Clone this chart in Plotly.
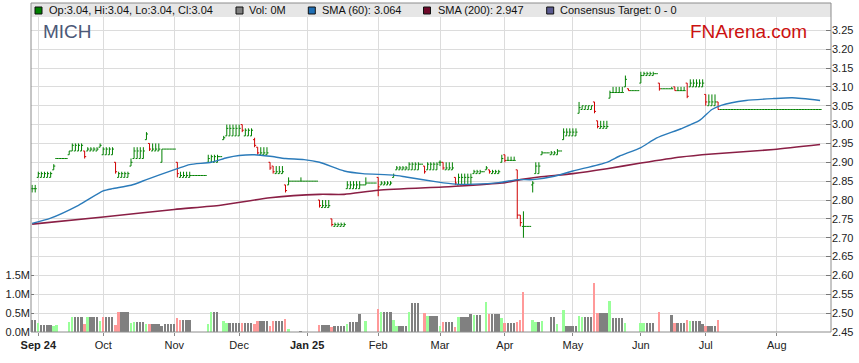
import plotly.graph_objects as go
import pandas as pd

# ---------------- data ----------------
dates = pd.bdate_range("2024-08-29", "2025-08-21").strftime("%Y-%m-%d").tolist()

def rep(v, n):
    return [v] * n

open_ = ([2.83, 2.83, 2.86] + rep(2.86, 4) + [2.88, 2.91] + rep(2.91, 3) + [2.92] + rep(2.93, 4) + [2.93]
         + rep(2.93, 4) + [2.94] + rep(2.92, 4) + [2.90] + rep(2.86, 4) + [2.89] + rep(2.91, 4) + [2.96, 2.95]
         + rep(2.93, 3) + [2.90] + rep(2.935, 4) + [2.90] + rep(2.86, 4) + rep(2.865, 5) + [2.90] + rep(2.90, 3)
         + [2.915, 2.96] + rep(2.97, 5) + [3.00] + rep(2.97, 3) + [2.96, 2.94] + rep(2.92, 3) + [2.90, 2.89]
         + rep(2.87, 3) + [2.84, 2.84] + rep(2.85, 3) + [2.85] + rep(2.85, 5) + [2.80] + rep(2.78, 3) + [2.75]
         + rep(2.73, 4) + [2.83] + rep(2.83, 3) + [2.83, 2.84, 2.84] + rep(2.845, 3) + [2.86] + rep(2.84, 4)
         + [2.86] + rep(2.88, 4) + [2.88] + rep(2.88, 3) + [2.895, 2.89] + rep(2.88, 4) + [2.90, 2.90]
         + rep(2.88, 3) + [2.86] + rep(2.84, 4) + [2.84] + rep(2.87, 3) + [2.875, 2.88, 2.88] + rep(2.87, 3)
         + [2.90, 2.92] + rep(2.905, 3) + [2.88, 2.76, 2.73] + rep(2.73, 2) + [2.84] + rep(2.87, 2) + [2.92]
         + rep(2.925, 2) + rep(2.92, 2) + [2.92, 2.93, 2.96] + rep(2.97, 4) + [3.03] + rep(3.04, 4) + [3.06, 3.01]
         + rep(2.99, 3) + [3.07] + rep(3.085, 4) + [3.10, 3.095] + rep(3.09, 3) + [3.11] + rep(3.13, 4)
         + [3.135, 3.11] + rep(3.095, 3) + [3.095, 3.10] + rep(3.09, 3) + [3.11] + rep(3.10, 4) + [3.10, 3.08]
         + rep(3.05, 3) + [3.06] + rep(3.04, 33))

high = ([2.84, 2.84, 2.875] + rep(2.875, 4) + [2.895, 2.91] + rep(2.91, 3) + [2.93] + rep(2.95, 4) + [2.93]
        + rep(2.94, 4) + [2.95] + rep(2.94, 4) + [2.90] + rep(2.875, 4) + [2.91] + rep(2.94, 4) + [2.98, 2.95]
        + rep(2.95, 3) + [2.935] + rep(2.935, 4) + [2.90] + rep(2.875, 4) + rep(2.865, 5) + [2.92] + rep(2.92, 3)
        + [2.915, 2.97] + rep(3.00, 5) + [3.00] + rep(2.99, 3) + [2.965, 2.94] + rep(2.94, 3) + [2.90, 2.89]
        + rep(2.89, 3) + [2.84, 2.86] + rep(2.85, 3) + [2.86] + rep(2.85, 5) + [2.80] + rep(2.80, 3) + [2.75]
        + rep(2.74, 4) + [2.85] + rep(2.85, 3) + [2.85, 2.84, 2.86] + rep(2.845, 3) + [2.86] + rep(2.85, 4)
        + [2.87] + rep(2.89, 4) + [2.90] + rep(2.90, 3) + [2.895, 2.89] + rep(2.90, 4) + [2.905, 2.90]
        + rep(2.90, 3) + [2.86] + rep(2.87, 4) + [2.87] + rep(2.88, 3) + [2.875, 2.89, 2.88] + rep(2.88, 3)
        + [2.92, 2.92] + rep(2.915, 3) + [2.88, 2.76, 2.77] + rep(2.73, 2) + [2.85] + rep(2.90, 2) + [2.93]
        + rep(2.925, 2) + rep(2.93, 2) + [2.935, 2.93, 2.99] + rep(2.99, 4) + [3.06] + rep(3.05, 4) + [3.06, 3.01]
        + rep(3.01, 3) + [3.09] + rep(3.10, 4) + [3.13, 3.095] + rep(3.09, 3) + [3.14] + rep(3.14, 4)
        + [3.135, 3.11] + rep(3.095, 3) + [3.10, 3.10] + rep(3.10, 3) + [3.11] + rep(3.12, 4) + [3.12, 3.08]
        + rep(3.08, 3) + [3.06] + rep(3.04, 33))

low = ([2.82, 2.82, 2.86] + rep(2.86, 4) + [2.88, 2.91] + rep(2.91, 3) + [2.92] + rep(2.93, 4) + [2.91]
       + rep(2.93, 4) + [2.94] + rep(2.92, 4) + [2.87] + rep(2.86, 4) + [2.89] + rep(2.91, 4) + [2.96, 2.93]
       + rep(2.93, 3) + [2.90] + rep(2.935, 4) + [2.86] + rep(2.86, 4) + rep(2.865, 5) + [2.90] + rep(2.90, 3)
       + [2.915, 2.96] + rep(2.97, 5) + [2.98] + rep(2.97, 3) + [2.94, 2.92] + rep(2.92, 3) + [2.88, 2.87]
       + rep(2.87, 3) + [2.82, 2.84] + rep(2.85, 3) + [2.85] + rep(2.85, 5) + [2.78] + rep(2.78, 3) + [2.73]
       + rep(2.73, 4) + [2.83] + rep(2.83, 3) + [2.83, 2.84, 2.84] + rep(2.845, 3) + [2.81] + rep(2.84, 4)
       + [2.86] + rep(2.88, 4) + [2.88] + rep(2.88, 3) + [2.895, 2.87] + rep(2.88, 4) + [2.89, 2.88]
       + rep(2.88, 3) + [2.84] + rep(2.84, 4) + [2.84] + rep(2.87, 3) + [2.875, 2.88, 2.87] + rep(2.87, 3)
       + [2.90, 2.90] + rep(2.905, 3) + [2.75, 2.73, 2.70] + rep(2.73, 2) + [2.82] + rep(2.87, 2) + [2.92]
       + rep(2.925, 2) + rep(2.92, 2) + [2.92, 2.93, 2.96] + rep(2.97, 4) + [3.03] + rep(3.04, 4) + [3.03, 2.99]
       + rep(2.99, 3) + [3.07] + rep(3.085, 4) + [3.10, 3.09] + rep(3.09, 3) + [3.11] + rep(3.13, 4)
       + [3.135, 3.09] + rep(3.095, 3) + [3.095, 3.09] + rep(3.09, 3) + [3.07] + rep(3.10, 4) + [3.10, 3.05]
       + rep(3.05, 3) + [3.04] + rep(3.04, 33))

close = ([2.83, 2.83, 2.87] + rep(2.87, 4) + [2.89, 2.91] + rep(2.91, 3) + [2.93] + rep(2.945, 4) + [2.915]
         + rep(2.935, 4) + [2.945] + rep(2.935, 4) + [2.875] + rep(2.87, 4) + [2.90] + rep(2.93, 4) + [2.975, 2.935]
         + rep(2.935, 3) + [2.935] + rep(2.935, 4) + [2.87] + rep(2.865, 4) + rep(2.865, 5) + [2.91] + rep(2.915, 3)
         + [2.915, 2.965] + rep(2.99, 5) + [2.985] + rep(2.985, 3) + [2.945, 2.925] + rep(2.925, 3) + [2.885, 2.875]
         + rep(2.875, 3) + [2.825, 2.85] + rep(2.85, 3) + [2.85] + rep(2.85, 5) + [2.785] + rep(2.785, 3) + [2.735]
         + rep(2.735, 4) + [2.84] + rep(2.84, 3) + [2.84, 2.84, 2.845] + rep(2.845, 3) + [2.835] + rep(2.845, 4)
         + [2.865] + rep(2.885, 4) + [2.895] + rep(2.895, 3) + [2.895, 2.875] + rep(2.895, 4) + [2.90, 2.885]
         + rep(2.885, 3) + [2.845] + rep(2.86, 4) + [2.86] + rep(2.875, 3) + [2.875, 2.885, 2.875] + rep(2.875, 3)
         + [2.91, 2.905] + rep(2.905, 3) + [2.76, 2.74, 2.73] + rep(2.73, 2) + [2.845] + rep(2.89, 2) + [2.925]
         + rep(2.925, 2) + rep(2.925, 2) + [2.93, 2.93, 2.98] + rep(2.98, 4) + [3.045] + rep(3.05, 4) + [3.035, 2.995]
         + rep(2.995, 3) + [3.085] + rep(3.085, 4) + [3.12, 3.09] + rep(3.09, 3) + [3.13] + rep(3.135, 4)
         + [3.135, 3.095] + rep(3.095, 3) + [3.095, 3.09] + rep(3.09, 3) + [3.075] + rep(3.11, 4) + [3.11, 3.06]
         + rep(3.06, 3) + [3.04] + rep(3.04, 33))

volume_m = ([0.32, 0.32, 0.24] + rep(0.19, 4) + [0.16, 0.18] + rep(0, 3) + [0.27] + rep(0.41, 4) + [0.21]
            + rep(0.41, 4) + [0.30] + rep(0.41, 4) + [0.19] + rep(0.53, 4) + [0.24] + rep(0.27, 4) + [0.21, 0.21]
            + rep(0.21, 3) + [0.15] + rep(0.21, 4) + [0.36] + rep(0.32, 4) + rep(0, 5) + [0.21] + rep(0.53, 3)
            + [0, 0.30] + rep(0.23, 5) + [0.23] + rep(0.23, 3) + [0.21, 0.30] + rep(0.30, 3) + [0.15, 0.30]
            + rep(0.30, 3) + [0.34, 0.09] + rep(0, 3) + [0.02] + rep(0, 5) + [0.19] + rep(0.19, 3) + [0.13]
            + rep(0.15, 4) + [0.21] + rep(0.27, 3) + [0.48, 0, 0.30] + rep(0, 3) + [0.60] + rep(0.53, 4)
            + [0.32] + rep(0.15, 4) + [0.53] + rep(0.76, 3) + [0, 0.50] + rep(0.42, 4) + [0.15, 0.27]
            + rep(0.27, 3) + [0.13] + rep(0.40, 4) + [0.49] + rep(0.45, 3) + [0, 0.80, 0.47] + rep(0.47, 3)
            + [0.36, 0.24] + rep(0.24, 3) + [0.27, 0.33, 1.07] + rep(0, 2) + [0.32] + rep(0.27, 2) + [0.30]
            + rep(0, 2) + rep(0.39, 2) + [0.21, 0, 0.58] + rep(0.15, 4) + [0.42] + rep(0.39, 4) + [1.31, 0.51]
            + rep(0.51, 3) + [0.83] + rep(0.36, 4) + [0.24, 0] + rep(0, 3) + [0.24] + rep(0.24, 4)
            + [0, 0.54] + rep(0, 3) + [0.45, 0.24] + rep(0.24, 3) + [0.32] + rep(0.30, 4) + [0.21, 0.15]
            + rep(0.15, 3) + [0.33] + rep(0, 33))

sma60_dates = ["2024-08-29", "2024-09-06", "2024-09-19", "2024-10-01", "2024-10-04", "2024-10-14",
               "2024-10-21", "2024-10-25", "2024-11-04", "2024-11-08", "2024-11-19", "2024-11-26",
               "2024-12-02", "2024-12-09", "2024-12-16", "2024-12-23", "2024-12-31", "2025-01-07",
               "2025-01-17", "2025-01-27", "2025-02-10", "2025-02-14", "2025-02-28", "2025-03-10",
               "2025-03-18", "2025-03-28", "2025-04-07", "2025-04-14", "2025-04-23", "2025-05-01",
               "2025-05-16", "2025-05-22", "2025-06-02", "2025-06-09", "2025-06-19", "2025-06-27",
               "2025-07-03", "2025-07-08", "2025-07-18", "2025-07-31", "2025-08-08", "2025-08-21"]
sma60 = [2.738, 2.752, 2.786, 2.824, 2.830, 2.839, 2.854, 2.866, 2.883, 2.894, 2.900, 2.912,
         2.918, 2.920, 2.916, 2.910, 2.907, 2.900, 2.877, 2.870, 2.866, 2.861, 2.848, 2.842,
         2.842, 2.846, 2.854, 2.854, 2.863, 2.877, 2.900, 2.916, 2.939, 2.964, 2.989, 3.011,
         3.040, 3.051, 3.064, 3.069, 3.071, 3.064]

sma200_dates = ["2024-08-29", "2024-10-01", "2024-11-01", "2024-11-22", "2024-12-16", "2025-01-07",
                "2025-01-17", "2025-02-03", "2025-03-07", "2025-03-31", "2025-04-08", "2025-04-16",
                "2025-05-01", "2025-05-16", "2025-06-02", "2025-06-19", "2025-07-03", "2025-07-31",
                "2025-08-21"]
sma200 = [2.736, 2.755, 2.775, 2.786, 2.806, 2.815, 2.815, 2.826, 2.836, 2.845, 2.854, 2.861,
          2.870, 2.883, 2.898, 2.914, 2.922, 2.934, 2.947]

month_ticks = ["2024-09-02", "2024-10-01", "2024-11-01", "2024-12-02", "2025-01-01", "2025-02-03",
               "2025-03-03", "2025-04-01", "2025-05-01", "2025-06-02", "2025-07-01", "2025-08-01"]
month_labels = ["<b>Sep 24</b>", "Oct", "Nov", "Dec", "<b>Jan 25</b>", "Feb", "Mar", "Apr", "May",
                "Jun", "Jul", "Aug"]
price_ticks = [2.45, 2.50, 2.55, 2.60, 2.65, 2.70, 2.75, 2.80, 2.85, 2.90, 2.95, 3.00, 3.05, 3.10,
               3.15, 3.20, 3.25]
vol_ticks = [0, 0.5e6, 1.0e6, 1.5e6]
vol_labels = ["0.0M", "0.5M", "1.0M", "1.5M"]

legend_items = ["Op:3.04, Hi:3.04, Lo:3.04, Cl:3.04", "Vol: 0M", "SMA (60): 3.064",
                "SMA (200): 2.947", "Consensus Target: 0 - 0"]

# ---------------- styling / layout ----------------
W, H = 859, 363
ML, MR, MT, MB = 31, 28, 3, 31
PW, PH = W - ML - MR, H - MT - MB
FONT = "Arial, 'Liberation Sans', sans-serif"
GREEN, RED = "#008000", "#d00000"

n = len(dates)
up = [c >= o for o, c in zip(open_, close)]


def sel(vals, mask):
    return [v if m else None for v, m in zip(vals, mask)]


fig = go.Figure()

# volume bars
vcol = []
for i in range(n):
    if i == 0 or round(close[i], 4) == round(close[i - 1], 4):
        vcol.append("#808080")
    elif close[i] > close[i - 1]:
        vcol.append("#99ff99")
    else:
        vcol.append("#ff9999")
fig.add_trace(go.Bar(x=dates, y=[v * 1e6 for v in volume_m], yaxis="y2", marker_color=vcol,
                     marker_line_width=0, width=0.62, hoverinfo="skip"))

# SMA lines
fig.add_trace(go.Scatter(x=sma200_dates, y=sma200, mode="lines",
                         line=dict(color="#8a1f45", width=1.6, shape="spline", smoothing=0.6)))
fig.add_trace(go.Scatter(x=sma60_dates, y=sma60, mode="lines",
                         line=dict(color="#2b7bba", width=1.4, shape="spline", smoothing=0.6)))

# OHLC bars (green / red)
down = [not u for u in up]
for mask, col in ((up, GREEN), (down, RED)):
    fig.add_trace(go.Ohlc(x=dates, open=sel(open_, mask), high=sel(high, mask), low=sel(low, mask),
                          close=sel(close, mask), tickwidth=0.5,
                          increasing=dict(line=dict(color=col, width=1)),
                          decreasing=dict(line=dict(color=col, width=1))))


def px_x(x):
    return (x - ML) / PW


def px_y(y):
    return (MT + PH - y) / PH


shapes = [
    dict(type="rect", xref="paper", yref="paper", x0=0, x1=1, y0=px_y(17), y1=1,
         fillcolor="#e6e6e6", line_width=0, layer="above"),
    dict(type="rect", xref="paper", yref="paper", x0=0, x1=1, y0=0, y1=1,
         line=dict(color="#8c8c8c", width=1), layer="above"),
]
sq_x = [35, 236, 308.3, 423.5, 546.7]
txt_x = [46.5, 246.5, 319.5, 436, 558]
sq_col = [GREEN, "#808080", "#1f6fb5", "#6e0a2a", "#5a5a90"]
annotations = []
for sx, tx, c, t in zip(sq_x, txt_x, sq_col, legend_items):
    shapes.append(dict(type="rect", xref="paper", yref="paper", x0=px_x(sx), x1=px_x(sx + 7),
                       y0=px_y(14), y1=px_y(7), fillcolor=c, line=dict(color="#111", width=1),
                       layer="above"))
    annotations.append(dict(text=t, xref="paper", yref="paper", x=px_x(tx), y=px_y(10.5),
                            xanchor="left", yanchor="middle", showarrow=False,
                            font=dict(family=FONT, size=11, color="#111")))

annotations.append(dict(text="MICH", xref="paper", yref="paper", x=px_x(41), y=px_y(32),
                        xanchor="left", yanchor="middle", showarrow=False,
                        font=dict(family=FONT, size=19, color="#4b5878")))
annotations.append(dict(text="FNArena.com", xref="paper", yref="paper", x=px_x(808.5), y=px_y(32),
                        xanchor="right", yanchor="middle", showarrow=False,
                        font=dict(family=FONT, size=19, color="#cc1111")))

y_lo = 2.45
y_hi = 2.45 + PH * (0.80 / 301.7)
v_hi = PH / 18.856 * 0.5e6
x_lo = (ML - 38.3) / 3.09 + 2
x_hi = (ML + PW - 38.3) / 3.09 + 2

fig.update_layout(
    width=W, height=H, margin=dict(l=ML, r=MR, t=MT, b=MB),
    paper_bgcolor="white", plot_bgcolor="white", showlegend=False, hovermode=False,
    font=dict(family=FONT, size=11, color="#222"),
    shapes=shapes, annotations=annotations, bargap=0,
    xaxis=dict(type="category", categoryorder="array", categoryarray=dates,
               range=[x_lo, x_hi], tickmode="array", tickvals=month_ticks, ticktext=month_labels,
               showgrid=True, gridcolor="#dcdcdc", gridwidth=1, ticks="outside", ticklen=3,
               tickcolor="#888", showline=False, zeroline=False, rangeslider=dict(visible=False),
               tickfont=dict(family=FONT, size=11, color="#222"), fixedrange=True),
    yaxis=dict(side="right", range=[y_lo, y_hi], tickmode="array", tickvals=price_ticks,
               ticktext=[f"{v:.2f}" for v in price_ticks], showgrid=True, gridcolor="#dcdcdc",
               gridwidth=1, ticks="inside", ticklen=5, tickcolor="#777", showline=False,
               zeroline=False, tickfont=dict(family=FONT, size=11, color="#222"), fixedrange=True),
    yaxis2=dict(overlaying="y", side="left", range=[0, v_hi], tickmode="array", tickvals=vol_ticks,
                ticktext=vol_labels, showgrid=False, ticks="inside", ticklen=3, tickcolor="#777",
                showline=False, zeroline=False, tickfont=dict(family=FONT, size=11, color="#222"),
                fixedrange=True),
)

fig.write_html("out.html", config={"displayModeBar": False},
               post_script="document.body.style.margin='0';document.body.style.overflow='hidden';")
